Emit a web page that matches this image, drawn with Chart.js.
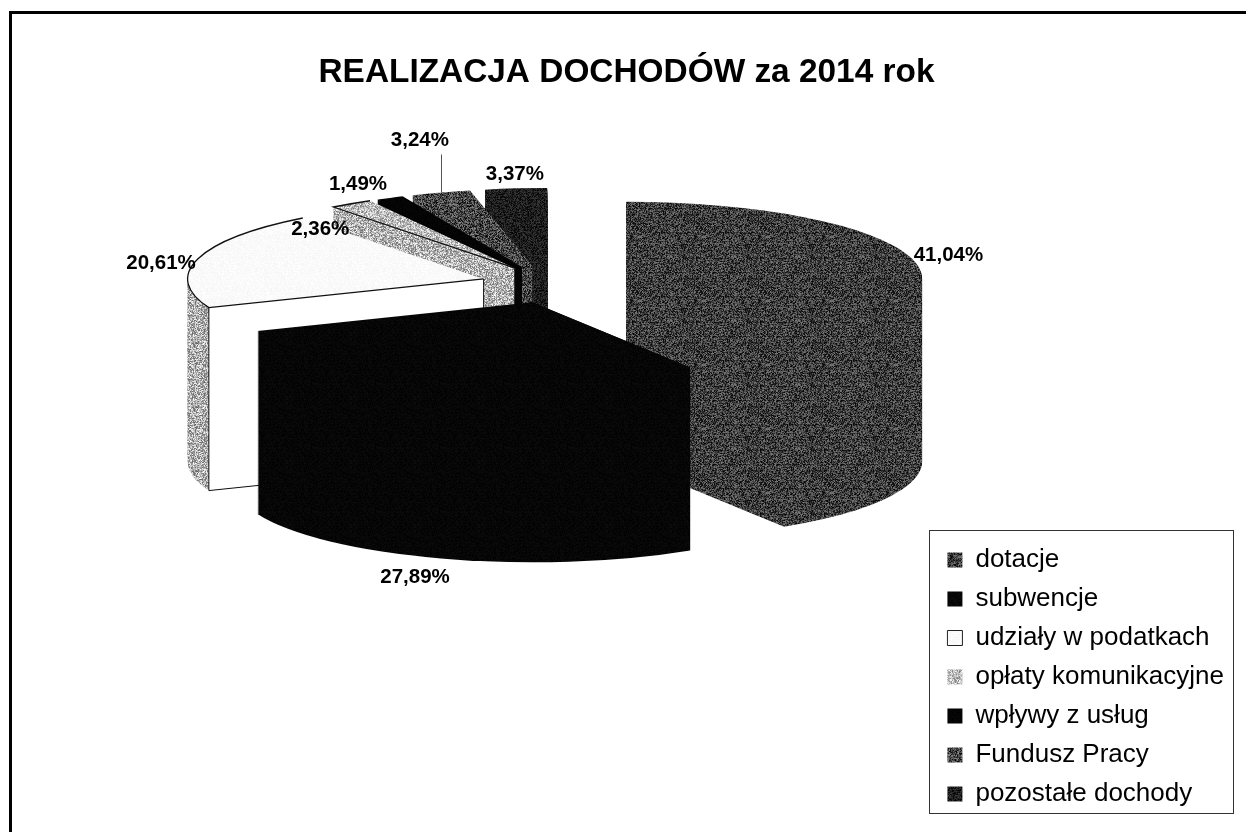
<!DOCTYPE html>
<html><head><meta charset="utf-8">
<script src="https://cdn.jsdelivr.net/npm/chart.js@4"></script>
<style>html,body{margin:0;padding:0;background:#fff}#w{width:1246px;height:832px}</style>
</head><body><div id="w"><canvas id="c" width="1246" height="832"></canvas></div>
<script>
const categories = ['dotacje','subwencje','udziały w podatkach','opłaty komunikacyjne','wpływy z usług','Fundusz Pracy','pozostałe dochody'];
const shares = [41.04,27.89,20.61,2.36,1.49,3.24,3.37];
const topGray = [62,6,250,190,4,70,30];
const wallGray = [62,6,176,180,4,70,30];
const faceGray = [62,6,255,180,4,70,30];
const labelNudge = [[38,-2],[-26,19],[-37,5],[-31,26],[-32,-14],[-21,-52],[-1,-14]];
const drawOrder = [6,5,4,3,2,0,1];
const TITLE = 'REALIZACJA DOCHODÓW za 2014 rok';
const centre = {x:555,y:284}, RX = 296, SQUASH = 0.26, DEPTH = 183, EXPLODE = 74;

function tile(level){
  const n=64,cv=document.createElement('canvas');cv.width=cv.height=n;
  const g=cv.getContext('2d'),im=g.createImageData(n,n);let s=12345+level;
  const amp=Math.min(level,255-level)/128*0.95;
  for(let y=0;y<n;y++){ const streak=(y%3===0)?14*amp:-7*amp;
    for(let x=0;x<n;x++){ s=(s*1103515245+12345)&0x7fffffff;
      const t=(s>>16)&255;
      const v=Math.max(0,Math.min(255,level+(t-128)*amp+streak));
      const i=(y*n+x)*4;im.data[i]=im.data[i+1]=im.data[i+2]=v;im.data[i+3]=255;}}
  g.putImageData(im,0,0);return g.createPattern(cv,'repeat');
}
const topPat=topGray.map(tile), wallPat=wallGray.map(tile), facePat=faceGray.map(tile);
const allPat=[...topPat,...wallPat,...facePat];

const midAngle=a=>(a.startAngle+a.endAngle)/2;
const pie3d={id:'pie3d',
  beforeDatasetDraw(chart,args){
    const ctx=chart.ctx,arcs=args.meta.data,base=ctx.getTransform();
    const vertex=arc=>{const a=midAngle(arc);return {x:centre.x+Math.cos(a)*EXPLODE,y:centre.y+Math.sin(a)*EXPLODE*SQUASH};};
    const paint=(arc,dy,pat,el)=>{
      const v=vertex(arc);
      const m=new DOMMatrix().translate(v.x,v.y+dy).scale(1,SQUASH).translate(-arc.x,-arc.y);
      pat.setTransform(m.inverse());
      ctx.save();ctx.setTransform(m);el.draw(ctx,chart.chartArea);ctx.restore();
    };
    drawOrder.forEach(i=>{
      const arc=arcs[i],v=vertex(arc);
      const wall=Object.create(arc);wall.options={...arc.options,backgroundColor:wallPat[i],borderWidth:0};
      const top=Object.create(arc);top.options={...arc.options,backgroundColor:topPat[i],borderWidth:0};
      for(let dy=DEPTH;dy>0;dy--) paint(arc,dy,wallPat[i],wall);
      const s=arc.startAngle,e=arc.endAngle;
      const px=v.x+Math.cos(s)*RX,py=v.y+Math.sin(s)*RX*SQUASH;
      facePat[i].setTransform(new DOMMatrix());
      ctx.save();ctx.fillStyle=facePat[i];ctx.beginPath();ctx.moveTo(v.x,v.y);ctx.lineTo(px,py);ctx.lineTo(px,py+DEPTH);ctx.lineTo(v.x,v.y+DEPTH);ctx.closePath();ctx.fill();ctx.restore();
      paint(arc,0,topPat[i],top);
      if(i===2||i===3){
        ctx.save();ctx.strokeStyle='#111';ctx.lineWidth=1.3;ctx.beginPath();
        ctx.moveTo(v.x,v.y);ctx.ellipse(v.x,v.y,RX,RX*SQUASH,0,s,e);
        ctx.stroke();
        if(i===2){ctx.beginPath();ctx.moveTo(px,py);ctx.lineTo(px,py+DEPTH);ctx.lineTo(v.x,v.y+DEPTH);
          ctx.moveTo(v.x,v.y);ctx.lineTo(v.x,v.y+DEPTH);ctx.lineWidth=1;ctx.stroke();}
        ctx.restore();
      }
    });
    ctx.setTransform(base);
    allPat.forEach(p=>p.setTransform(new DOMMatrix()));
    return false;
  },
  afterDatasetsDraw(chart){
    const ctx=chart.ctx,arcs=chart.getDatasetMeta(0).data;
    ctx.save();ctx.font='bold 20.5px "Liberation Sans"';ctx.fillStyle='#000';ctx.textAlign='center';ctx.textBaseline='middle';
    arcs.forEach((arc,i)=>{
      const a=midAngle(arc);
      let x=centre.x+Math.cos(a)*(EXPLODE+RX),y=centre.y+Math.sin(a)*(EXPLODE+RX)*SQUASH;
      if(i===1)y+=DEPTH;
      if(i===5){ctx.strokeStyle='#555';ctx.lineWidth=1;ctx.beginPath();ctx.moveTo(Math.round(x)+.5,y);ctx.lineTo(Math.round(x)+.5,y-38);ctx.stroke();}
      ctx.fillText(shares[i].toFixed(2).replace('.',',')+'%',x+labelNudge[i][0],y+labelNudge[i][1]);
    });
    ctx.restore();
  },
  afterDraw(chart){
    const ctx=chart.ctx;
    ctx.save();ctx.strokeStyle='#333';ctx.lineWidth=1;
    ctx.strokeRect(929.5,530.5,304,283);
    ctx.strokeStyle='#000';ctx.lineWidth=3;ctx.beginPath();ctx.moveTo(10.5,860);ctx.lineTo(10.5,12.5);ctx.lineTo(1246,12.5);ctx.stroke();
    ctx.restore();
  }
};
new Chart(document.getElementById('c'),{
  type:'pie',
  data:{labels:categories,datasets:[{data:shares,
    backgroundColor:topPat,
    borderColor:topGray.map((g,i)=>i===2?'#222':'rgba(0,0,0,0)'),
    borderWidth:topGray.map((g,i)=>i===2?1:0),
    hoverOffset:0,radius:RX}]},
  options:{responsive:false,animation:false,
    layout:{padding:{right:12,bottom:12,top:0,left:19}},
    events:[],
    plugins:{
      title:{display:true,text:TITLE,color:'#000',font:{family:'"Liberation Sans"',size:33.4,weight:'bold'},padding:{top:53,bottom:10}},
      tooltip:{enabled:false},
      legend:{position:'right',align:'end',labels:{color:'#000',boxWidth:15,boxHeight:15,padding:13,font:{family:'"Liberation Sans"',size:26}}}
    }},
  plugins:[pie3d]
});
</script></body></html>
